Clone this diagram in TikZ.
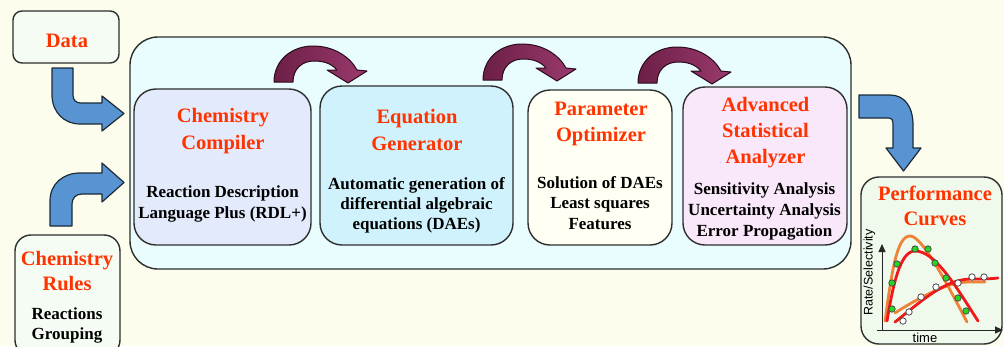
\documentclass[tikz,border=0pt]{standalone}
\usepackage{fontspec}
\setmainfont{Liberation Serif}
\newfontfamily\chartfont{Liberation Sans}
\usetikzlibrary{arrows.meta}

\definecolor{pagebg}{HTML}{FCFDEC}
\definecolor{framefill}{HTML}{EAFDFE}
\definecolor{inputfill}{HTML}{F4FCF4}
\definecolor{compfill}{HTML}{E2EAFB}
\definecolor{eqfill}{HTML}{CFF2FC}
\definecolor{optfill}{HTML}{FFFFF4}
\definecolor{statfill}{HTML}{F9E7FA}
\definecolor{perffill}{HTML}{EFF9EC}
\definecolor{edge}{HTML}{2E2E2E}
\definecolor{titlered}{HTML}{FF3300}
\definecolor{flowblue}{HTML}{5894D2}
\definecolor{flowedge}{HTML}{1C2B3A}
\definecolor{plumdark}{HTML}{6C1F46}
\definecolor{plumlight}{HTML}{9A3A6E}
\definecolor{plumedge}{HTML}{2B0A1B}
\definecolor{curveorange}{HTML}{EE8236}
\definecolor{curvered}{HTML}{F01818}
\definecolor{dotgreen}{HTML}{22D822}

% curved step arrow between two stages, given its offset
\newcommand\steparrow[1]{%
  \draw[plumarrow, shift={(#1)}]
    (274,82) .. controls (274,60) and (292,46) .. (313,46)
    .. controls (334,46) and (350,57) .. (357,70)
    -- (367,71) -- (348,83) -- (327,70) -- (337,70)
    .. controls (331,63) and (323,61) .. (314,61)
    .. controls (302,61) and (293,69) .. (293,82) -- cycle;}

\begin{document}
\begin{tikzpicture}[x=1pt,y=-1pt,
  panel/.style={draw=edge, line width=1.4pt, rectangle, inner sep=0pt},
  heading/.style={font=\bfseries\fontsize{20.5}{26}\selectfont, text=titlered, anchor=base, inner sep=0pt},
  detail/.style={font=\bfseries\fontsize{17}{21}\selectfont, text=black, anchor=base, inner sep=0pt},
  bluearrow/.style={fill=flowblue, draw=flowedge, line width=1.2pt, line join=round},
  plumarrow/.style={left color=plumdark, right color=plumlight, draw=plumedge, line width=1pt, line join=round},
  fitcurve/.style={line width=2.8pt, line cap=round},
  greendot/.style={fill=dotgreen, draw=black!70, line width=0.8pt},
  whitedot/.style={fill=white, draw=black!70, line width=0.8pt},
  axis/.style={line width=1pt, draw=black!85}]

\useasboundingbox (0,0) rectangle (1004,346);
\fill[pagebg] (0,0) rectangle (1004,346);

% enclosing frame and the input / output boxes
\node[panel, fill=framefill, rounded corners=28pt, minimum width=721pt, minimum height=232pt] (frame) at (490.5,153) {};
\node[panel, fill=inputfill, rounded corners=9pt, minimum width=106pt, minimum height=52pt] (data) at (66,37) {};
\node[panel, fill=inputfill, rounded corners=16pt, minimum width=105pt, minimum height=121pt] (rules) at (67.5,295.5) {};
\node[panel, fill=perffill, rounded corners=18pt, minimum width=141pt, minimum height=167pt] (perf) at (931.5,260.5) {};

% the four processing stages
\node[panel, fill=compfill, rounded corners=22pt, minimum width=177pt, minimum height=156pt] (comp) at (222.5,167) {};
\node[panel, fill=eqfill, rounded corners=22pt, minimum width=193pt, minimum height=159pt] (eqgen) at (416.5,165.5) {};
\node[panel, fill=optfill, rounded corners=22pt, minimum width=144pt, minimum height=155pt] (opt) at (600,167.5) {};
\node[panel, fill=statfill, rounded corners=22pt, minimum width=164pt, minimum height=158pt] (stat) at (765,166) {};

% texts
\node[heading] (data-t) at (67,47) {Data};
\foreach \t [count=\i] in {Chemistry,Rules}
  \node[heading, name=rules-t\i] at (67,{265+25*(\i-1)}) {\t};
\foreach \t [count=\i] in {Reactions,Grouping}
  \node[detail, name=rules-d\i] at (67,{319+20*(\i-1)}) {\t};

\foreach \t [count=\i] in {Chemistry,Compiler}
  \node[heading, name=comp-t\i] at (223,{122+27*(\i-1)}) {\t};
\foreach \t [count=\i] in {Reaction Description,Language Plus (RDL+)}
  \node[detail, name=comp-d\i] at (222.5,{197+21*(\i-1)}) {\t};

\foreach \t [count=\i] in {Equation,Generator}
  \node[heading, name=eq-t\i] at (417,{123+27*(\i-1)}) {\t};
\foreach \t [count=\i] in {Automatic generation of,differential algebraic,equations (DAEs)}
  \node[detail, name=eq-d\i] at (416.5,{189+20*(\i-1)}) {\t};

\foreach \t [count=\i] in {Parameter,Optimizer}
  \node[heading, name=opt-t\i] at (601,{115+26*(\i-1)}) {\t};
\foreach \t [count=\i] in {Solution of DAEs,Least squares,Features}
  \node[detail, name=opt-d\i] at (600,{188+20.5*(\i-1)}) {\t};

\foreach \t [count=\i] in {Advanced,Statistical,Analyzer}
  \node[heading, name=stat-t\i] at (765.5,{111+26*(\i-1)}) {\t};
\foreach \t [count=\i] in {Sensitivity Analysis,Uncertainty Analysis,Error Propagation}
  \node[detail, name=stat-d\i] at (764.5,{194+21*(\i-1)}) {\t};

\foreach \t [count=\i] in {Performance,Curves}
  \node[heading, name=perf-t\i] at (935,{200+25*(\i-1)}) {\t};

% bent input / output arrows
\draw[bluearrow] (52,68) -- (52,95) .. controls (52,112) and (64,124) .. (80,124)
  -- (102,124) -- (102,131) -- (124,113.5) -- (102,96) -- (102,103) -- (81,103)
  .. controls (76,103) and (73,100) .. (73,95) -- (73,68) -- cycle;
\draw[bluearrow] (50,226) -- (50,201) .. controls (50,184) and (63,173) .. (80,173)
  -- (102,173) -- (102,163) -- (124,182.5) -- (102,202) -- (102,194) -- (82,194)
  .. controls (76,194) and (72,198) .. (72,204) -- (72,226) -- cycle;
\draw[bluearrow] (859,95) -- (890,95) .. controls (904,95) and (913,106) .. (913,125)
  -- (913,148) -- (921,148) -- (903.5,171) -- (886,148) -- (893,148) -- (893,125)
  .. controls (893,120) and (892,118) .. (888,118) -- (859,118) -- cycle;

% step arrows between stages
\steparrow{0,0}
\steparrow{209,-2}
\steparrow{364,1}

% performance plot
\coordinate (origin) at (882,330);
\coordinate (ytop) at (882,244);
\coordinate (xleft) at (877,330);
\coordinate (xend) at (1003,330);
\draw[axis, -{Triangle[length=8pt,width=7pt]}] (origin) -- (ytop);
\draw[axis, -{Triangle[length=8pt,width=7pt]}] (xleft) -- (xend);
\node[font=\chartfont\fontsize{13}{14}\selectfont, inner sep=0pt] (xlabel) at (925,338) {time};
\node[font=\chartfont\fontsize{12.5}{14}\selectfont, inner sep=0pt, rotate=90] (ylabel) at (869.5,272.5) {Rate/Selectivity};

\draw[fitcurve, curveorange] (885,321) .. controls (892,270) and (897,236) .. (910,236)
  .. controls (922,236) and (945,280) .. (967,322);
\draw[fitcurve, curveorange] (895,313) .. controls (915,300) and (935,290) .. (950,285)
  .. controls (962,281) and (975,282) .. (985,282);
\draw[fitcurve, curvered] (887,321) .. controls (893,285) and (900,251) .. (915,251)
  .. controls (935,251) and (955,285) .. (978,321);
\draw[fitcurve, curvered] (895,322) .. controls (925,298) and (945,280) .. (970,279)
  .. controls (980,279) and (990,279) .. (998,278);

\foreach \p in {(892,283),(897,264),(915,249),(928,249),(935,263),(946,278),(958,298),(966,311),(892,309)}
  \draw[greendot] \p circle[radius=3.2pt];
\foreach \p in {(903,321),(909,312),(921,297),(936,287),(958,283),(972,277),(984,277)}
  \draw[whitedot] \p circle[radius=3.2pt];

\end{tikzpicture}
\end{document}
